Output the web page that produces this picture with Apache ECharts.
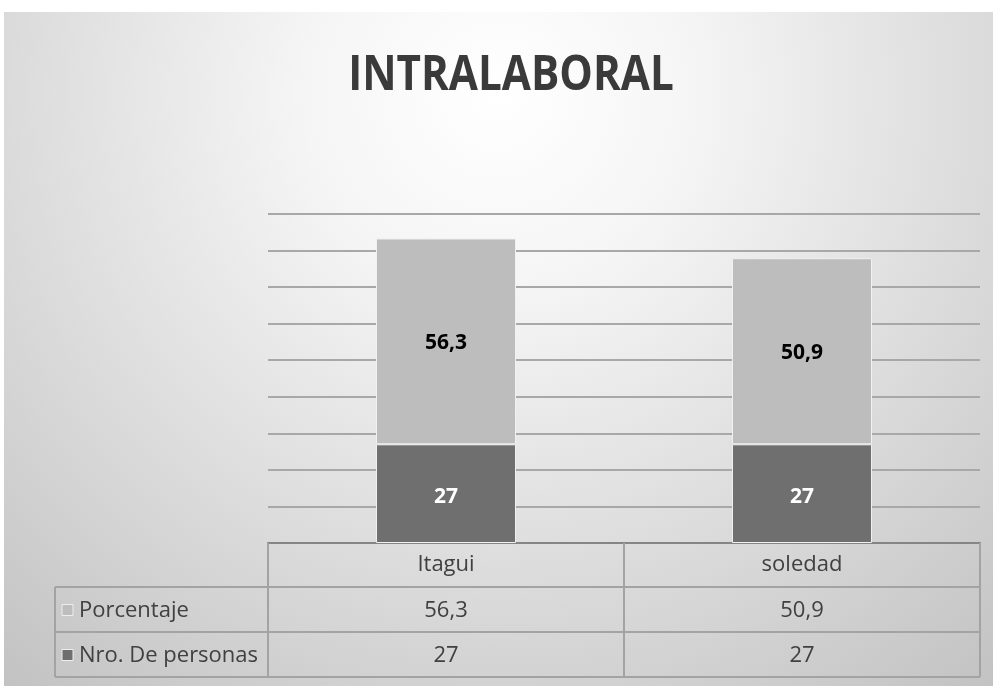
<!DOCTYPE html>
<html>
<head>
<meta charset="utf-8">
<script src="https://cdn.jsdelivr.net/npm/echarts@6/dist/echarts.min.js"></script>
<style>
  html, body { margin: 0; padding: 0; background: #ffffff; }
  #chart { width: 993px; height: 686px; }
</style>
</head>
<body>
<div id="chart"></div>
<script>
// Categories and series values
const categories = ['Itagui', 'soledad'];
const porcentaje = [56.3, 50.9];
const nroPersonas = [27, 27];
const seriesNames = ['Porcentaje', 'Nro. De personas'];
const chartTitle = 'INTRALABORAL';
const yMax = 90;
const yStep = 10;

const fmt = v => String(v).replace('.', ',');

// Layout of the plot area and the data table below it
const W = 993, H = 686;
const gridLeft = 268, gridRight = 13, gridTop = 214, gridBottom = 143;
const axisY = H - gridBottom;          // y of the zero line
const headerH = 44, rowH = 45;
const tableLeft = 55;
const textColor = '#404040';
const lineColor = '#a3a3a3';
const uiFont = '"Open Sans", "DejaVu Sans", sans-serif';
const tableFontSize = 22;

const colLight = '#bdbdbd';
const colDark = '#6f6f6f';

const chart = echarts.init(document.getElementById('chart'));

function tableGraphics() {
  const els = [];
  const plotRight = W - gridRight;
  const rowTops = [axisY + headerH, axisY + headerH + rowH];
  const tableBottom = axisY + headerH + 2 * rowH;
  const line = (x1, y1, x2, y2, color, w) => ({
    type: 'line', silent: true, z: 5,
    shape: { x1, y1, x2, y2 },
    style: { stroke: color || lineColor, lineWidth: w || 2 }
  });
  // horizontal rules
  els.push(line(tableLeft, rowTops[0], plotRight, rowTops[0]));
  els.push(line(tableLeft, rowTops[1], plotRight, rowTops[1]));
  els.push(line(tableLeft, tableBottom, plotRight, tableBottom));
  // vertical rules
  els.push(line(tableLeft, rowTops[0], tableLeft, tableBottom));
  els.push(line(gridLeft, axisY, gridLeft, tableBottom));
  const band = (plotRight - gridLeft) / categories.length;
  for (let i = 1; i <= categories.length; i++) {
    const x = gridLeft + band * i;
    els.push(line(x, axisY, x, tableBottom));
  }
  // row headers with legend keys
  const rows = [
    { name: seriesNames[0], color: colLight, values: porcentaje },
    { name: seriesNames[1], color: colDark, values: nroPersonas }
  ];
  rows.forEach((r, ri) => {
    const cy = rowTops[ri] + rowH / 2;
    els.push({
      type: 'rect', silent: true, z: 6,
      shape: { x: tableLeft + 7, y: cy - 5, width: 11, height: 11 },
      style: { fill: r.color, stroke: '#eeeeee', lineWidth: 1 }
    });
    els.push({
      type: 'text', silent: true, z: 6,
      x: tableLeft + 24, y: cy + 1,
      style: { text: r.name, font: tableFontSize + 'px ' + uiFont, fill: textColor, verticalAlign: 'middle', align: 'left' }
    });
    r.values.forEach((v, ci) => {
      els.push({
        type: 'text', silent: true, z: 6,
        x: gridLeft + band * (ci + 0.5), y: cy + 1,
        style: { text: fmt(v), font: tableFontSize + 'px ' + uiFont, fill: textColor, verticalAlign: 'middle', align: 'center' }
      });
    });
  });
  return els;
}

const option = {
  backgroundColor: '#ffffff',
  animation: false,
  graphic: [
    {
      type: 'rect', silent: true, z: -10,
      shape: { x: 4, y: 12, width: W - 4, height: H - 12 },
      style: {
        fill: {
          type: 'radial', x: 0.5, y: 0.12, r: 1.15,
          colorStops: [
            { offset: 0, color: '#ffffff' },
            { offset: 0.25, color: '#f5f5f5' },
            { offset: 1, color: '#c2c2c2' }
          ]
        }
      }
    },
    {
      // chart heading, slightly condensed
      type: 'text', silent: true, z: 6,
      x: 511, y: 76, scaleX: 0.88,
      style: {
        text: chartTitle,
        font: 'bold 48px ' + uiFont,
        fill: '#3a3a3a', align: 'center', verticalAlign: 'middle'
      }
    }
  ].concat(tableGraphics()),
  grid: { left: gridLeft, right: gridRight, top: gridTop, bottom: gridBottom },
  xAxis: {
    type: 'category',
    data: categories,
    axisTick: { show: false },
    axisLine: { show: true, lineStyle: { color: '#858585', width: 2 } },
    axisLabel: {
      margin: 22,
      verticalAlign: 'middle',
      fontSize: tableFontSize,
      fontFamily: uiFont,
      color: textColor
    }
  },
  yAxis: {
    type: 'value',
    min: 0,
    max: yMax,
    interval: yStep,
    axisLabel: { show: false },
    axisLine: { show: false },
    axisTick: { show: false },
    splitLine: { show: true, lineStyle: { color: '#a8a8a8', width: 2 } }
  },
  series: [
    {
      name: seriesNames[1],
      type: 'bar',
      stack: 'total',
      barWidth: 140,
      data: nroPersonas,
      itemStyle: { color: colDark, borderColor: '#f0f0f0', borderWidth: 1 },
      label: {
        show: true, position: 'inside', offset: [0, 3],
        formatter: p => fmt(p.value),
        color: '#ffffff', fontWeight: 'bold', fontSize: 21, fontFamily: uiFont
      }
    },
    {
      name: seriesNames[0],
      type: 'bar',
      stack: 'total',
      barWidth: 140,
      data: porcentaje,
      itemStyle: { color: colLight, borderColor: '#f0f0f0', borderWidth: 1 },
      label: {
        show: true, position: 'inside', offset: [0, 2],
        formatter: p => fmt(p.value),
        color: '#000000', fontWeight: 'bold', fontSize: 21, fontFamily: uiFont
      }
    }
  ]
};

chart.setOption(option);
</script>
</body>
</html>
